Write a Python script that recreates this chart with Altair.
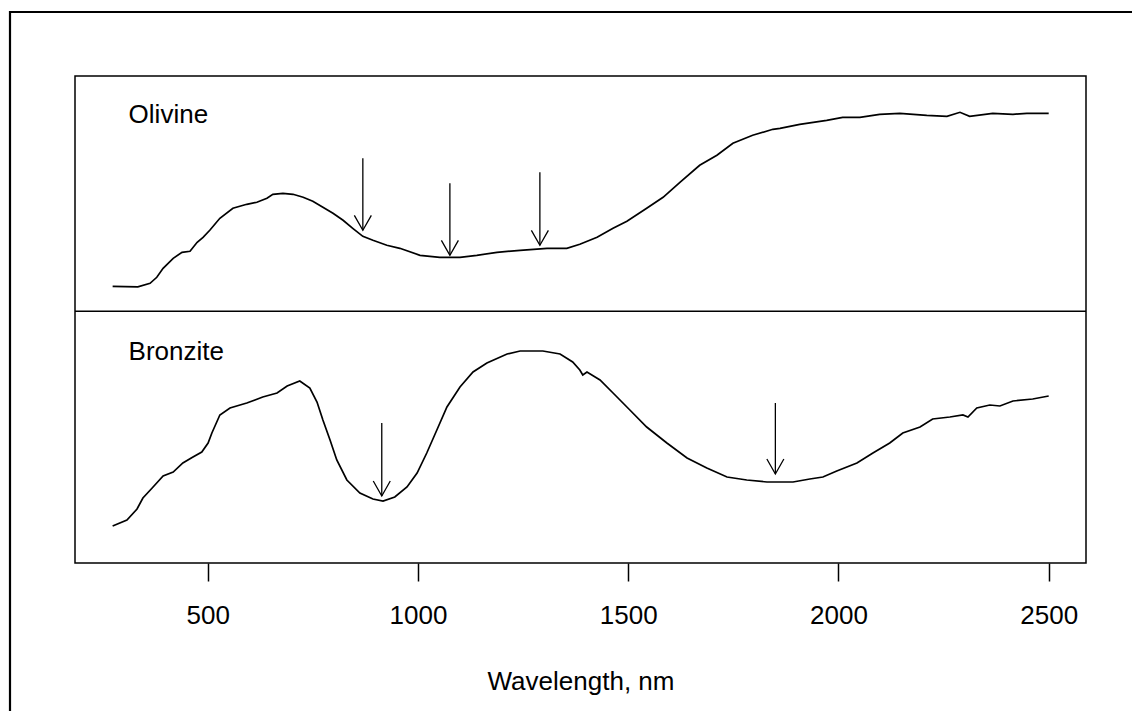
import altair as alt
import pandas as pd

# ---- Olivine spectrum (wavelength nm, relative reflectance within its panel)
OL_WL = [274, 334, 363, 379, 394, 418, 439, 458, 475, 489, 505, 529, 560, 593, 617, 641, 655, 679,
         703, 727, 750, 774, 798, 822, 845, 869, 893, 926, 957, 1005, 1052, 1100, 1140, 1188, 1243,
         1307, 1354, 1385, 1426, 1464, 1497, 1544, 1583, 1623, 1670, 1711, 1749, 1796, 1844, 1861,
         1908, 1972, 2010, 2051, 2098, 2146, 2210, 2258, 2289, 2312, 2367, 2415, 2448, 2500]
OL_R = [0.25, 0.245, 0.28, 0.34, 0.43, 0.53, 0.59, 0.60, 0.69, 0.74, 0.81, 0.93, 1.03, 1.07, 1.09,
        1.13, 1.17, 1.18, 1.17, 1.14, 1.10, 1.04, 0.98, 0.91, 0.83, 0.75, 0.71, 0.66, 0.63, 0.56,
        0.54, 0.54, 0.56, 0.59, 0.61, 0.63, 0.63, 0.67, 0.74, 0.83, 0.90, 1.03, 1.14, 1.29, 1.46,
        1.56, 1.68, 1.76, 1.82, 1.83, 1.87, 1.91, 1.94, 1.94, 1.97, 1.98, 1.96, 1.95, 1.99, 1.95,
        1.98, 1.97, 1.98, 1.98]

# ---- Bronzite spectrum
BR_WL = [274, 308, 332, 346, 368, 394, 418, 441, 465, 486, 501, 510, 529, 553, 593, 631, 665, 689,
         719, 743, 760, 774, 791, 807, 831, 862, 893, 917, 945, 974, 998, 1021, 1045, 1069, 1100,
         1131, 1164, 1212, 1243, 1297, 1338, 1368, 1385, 1392, 1402, 1433, 1464, 1504, 1544, 1592,
         1640, 1687, 1735, 1782, 1830, 1892, 1932, 1963, 1996, 2044, 2082, 2122, 2153, 2194, 2224,
         2265, 2296, 2308, 2329, 2360, 2384, 2415, 2462, 2500]
BR_R = [0.37, 0.43, 0.54, 0.65, 0.75, 0.87, 0.91, 1.00, 1.06, 1.11, 1.20, 1.30, 1.48, 1.55, 1.60,
        1.66, 1.70, 1.77, 1.82, 1.75, 1.61, 1.43, 1.23, 1.03, 0.83, 0.70, 0.64, 0.62, 0.66, 0.76,
        0.90, 1.10, 1.33, 1.56, 1.76, 1.91, 2.00, 2.09, 2.12, 2.12, 2.09, 2.01, 1.93, 1.88, 1.91,
        1.83, 1.70, 1.53, 1.36, 1.20, 1.05, 0.95, 0.86, 0.83, 0.81, 0.81, 0.84, 0.86, 0.92, 1.00,
        1.10, 1.20, 1.30, 1.36, 1.44, 1.46, 1.48, 1.46, 1.55, 1.58, 1.57, 1.62, 1.64, 1.67]

# ---- absorption band arrows
ARROW_PANEL = ["Olivine", "Olivine", "Olivine", "Bronzite", "Bronzite"]
ARROW_WL = [869, 1076, 1290, 914, 1850]
ARROW_TOP = [1.53, 1.28, 1.39, 1.40, 1.60]
ARROW_TIP = [0.81, 0.56, 0.66, 0.67, 0.89]

# ---- panel labels
LABELS = ["Olivine", "Bronzite"]
LABEL_WL = [312, 312]
LABEL_R = [1.88, 2.03]

X_TICKS = [500, 1000, 1500, 2000, 2500]
PANEL_OFFSET = {"Olivine": 2.517, "Bronzite": 0.0}

FONT = "Liberation Sans"

curves = pd.concat([
    pd.DataFrame({"panel": "Olivine", "wl": OL_WL, "r": OL_R}),
    pd.DataFrame({"panel": "Bronzite", "wl": BR_WL, "r": BR_R}),
], ignore_index=True)
curves["y"] = curves["r"] + curves["panel"].map(PANEL_OFFSET)

arrows = pd.DataFrame({"panel": ARROW_PANEL, "wl": ARROW_WL, "top": ARROW_TOP, "tip": ARROW_TIP})
arrows["y_top"] = arrows["top"] + arrows["panel"].map(PANEL_OFFSET)
arrows["y_tip"] = arrows["tip"] + arrows["panel"].map(PANEL_OFFSET)

labels = pd.DataFrame({"panel": LABELS, "wl": LABEL_WL, "r": LABEL_R})
labels["y"] = labels["r"] + labels["panel"].map(PANEL_OFFSET)

divider = pd.DataFrame({"y": [PANEL_OFFSET["Olivine"]]})
frame_df = pd.DataFrame({"k": [0]})

xs = alt.Scale(domain=[184.5, 2588.7], nice=False, zero=False)
ys = alt.Scale(domain=[0, 4.87], nice=False, zero=False)

xaxis = alt.Axis(
    values=X_TICKS, format="d", title="Wavelength, nm", grid=False, domain=False,
    tickSize=18, tickColor="black", tickWidth=1.5,
    labelFontSize=26, labelFont=FONT, labelColor="black", labelPadding=21,
    labelFlush=False, labelOverlap=False,
    titleFontSize=26, titleFont=FONT, titleFontWeight="normal", titleColor="black",
    titleX=505.5, titleY=126, titleBaseline="alphabetic",
)


def X(field):
    return alt.X(field, type="quantitative", scale=xs, axis=xaxis, title="Wavelength, nm")


def Y(field):
    return alt.Y(field, type="quantitative", scale=ys, axis=None)


# outer figure frame: only its left and top edges fall inside the picture
frame_left = alt.Chart(frame_df).mark_rule(color="black", strokeWidth=2.2).encode(
    x=alt.value(-65), y=alt.value(-65), y2=alt.value(635),
)
frame_top = alt.Chart(frame_df).mark_rule(color="black", strokeWidth=2.2).encode(
    x=alt.value(-66), x2=alt.value(1057), y=alt.value(-64),
)

line = alt.Chart(curves).mark_line(color="black", strokeWidth=1.7).encode(
    x=X("wl"), y=Y("y"), detail="panel:N", order="wl:Q",
)

div_rule = alt.Chart(divider).mark_rule(color="black", strokeWidth=1.5).encode(
    y=Y("y")
)

shafts = alt.Chart(arrows).mark_rule(color="black", strokeWidth=1.3).encode(
    x=X("wl"), y=Y("y_top"), y2="y_tip:Q",
)

heads = alt.Chart(arrows).mark_point(
    shape="M-1,-1.76L0,0L1,-1.76", filled=False, color="black",
    strokeWidth=1.3, size=289, opacity=1,
).encode(x=X("wl"), y=Y("y_tip"))

texts = alt.Chart(labels).mark_text(
    align="left", baseline="alphabetic", fontSize=26, font=FONT, color="black"
).encode(x=X("wl"), y=Y("y"), text="panel:N")

chart = alt.layer(frame_left, frame_top, div_rule, line, shafts, heads, texts).properties(
    width=1011, height=487,
    autosize=alt.AutoSizeParams(type="none"),
    padding={"left": 67, "top": 68, "right": 46, "bottom": 148},
    background="white",
).configure_view(stroke="black", strokeWidth=1.5)

chart.save("out.html", embed_options={"renderer": "svg", "actions": False})
